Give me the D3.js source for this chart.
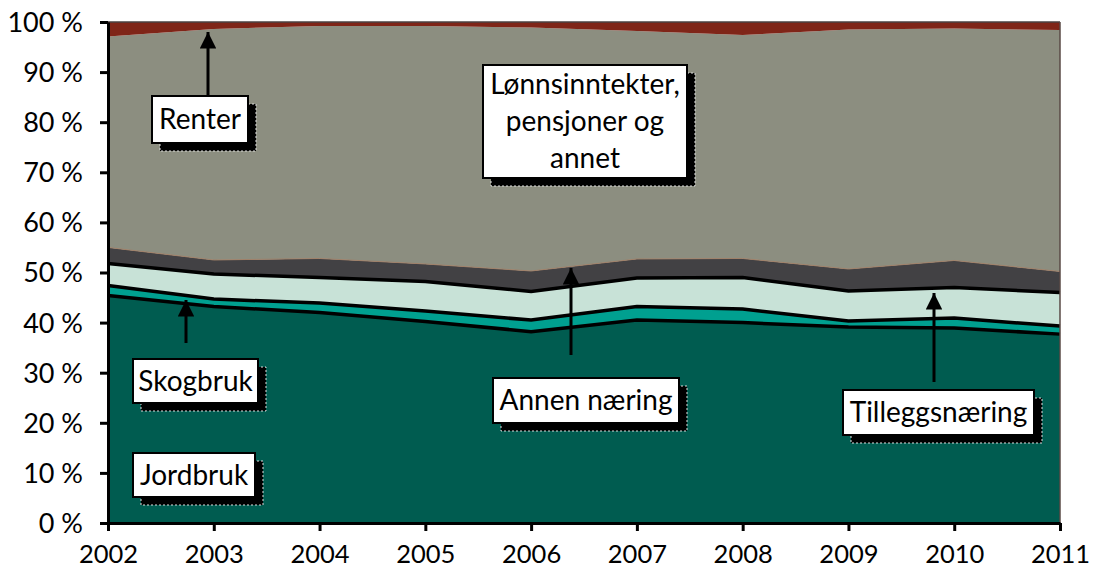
<!DOCTYPE html>
<html>
<head>
<meta charset="utf-8">
<script src="https://cdn.jsdelivr.net/npm/d3@7"></script>
<style>
  body { margin: 0; background: #fff; }
  text { font-family: Lato, "Open Sans", sans-serif; fill: #000; }
</style>
</head>
<body>
<div class="chart"></div>
<script>
// data (shares in %)
var years = [2002, 2003, 2004, 2005, 2006, 2007, 2008, 2009, 2010, 2011];
var jordbruk = [45.4, 43.2, 42.0, 40.2, 38.2, 40.5, 40.0, 39.1, 38.9, 37.7];
var skogbruk = [2.0, 1.5, 1.9, 2.1, 2.3, 2.7, 2.7, 1.2, 2.0, 1.6];
var tillegg = [4.4, 5.0, 5.1, 5.9, 5.7, 5.7, 6.3, 6.0, 6.1, 6.7];
var annen = [3.2, 2.8, 3.8, 3.5, 4.1, 3.8, 3.8, 4.4, 5.4, 4.2];
var lonn = [42.1, 46.1, 46.4, 47.5, 48.6, 45.5, 44.6, 47.8, 46.3, 48.2];
var renter = [2.9, 1.4, 0.8, 0.8, 1.1, 1.8, 2.6, 1.5, 1.3, 1.6];
var yTicks = [0, 10, 20, 30, 40, 50, 60, 70, 80, 90, 100];

var keys = ["jordbruk", "skogbruk", "tillegg", "annen", "lonn", "renter"];
var colors = {
  jordbruk: "#005c50",
  skogbruk: "#00a090",
  tillegg: "#c8e2d7",
  annen: "#424144",
  lonn: "#8c8e80",
  renter: "#7f2518"
};

var svgWidth = 1094;
var svgHeight = 576;
var margin = { top: 22, right: 34, bottom: 53, left: 108 };
var width = svgWidth - margin.left - margin.right;
var height = svgHeight - margin.top - margin.bottom;

var svg = d3.select(".chart")
  .append("svg")
  .attr("width", svgWidth)
  .attr("height", svgHeight);

var chartGroup = svg.append("g")
  .attr("transform", `translate(${margin.left}, ${margin.top})`);

var rows = years.map(function(y, i) {
  return {
    year: y,
    jordbruk: jordbruk[i],
    skogbruk: skogbruk[i],
    tillegg: tillegg[i],
    annen: annen[i],
    lonn: lonn[i],
    renter: renter[i]
  };
});

var series = d3.stack().keys(keys).offset(d3.stackOffsetExpand)(rows);

var xScale = d3.scaleLinear()
  .domain(d3.extent(years))
  .range([0, width]);

var yScale = d3.scaleLinear()
  .domain([0, 1])
  .range([height, 0]);

var area = d3.area()
  .x(d => xScale(d.data.year))
  .y0(d => yScale(d[0]))
  .y1(d => yScale(d[1]));

chartGroup.selectAll(".layer")
  .data(series)
  .enter()
  .append("path")
  .attr("class", "layer")
  .attr("d", area)
  .attr("fill", d => colors[d.key]);

// boundary lines on top of the lower layers
var topLine = d3.line()
  .x(d => xScale(d.data.year))
  .y(d => yScale(d[1]));

series.forEach(function(s) {
  if (s.key === "jordbruk" || s.key === "skogbruk" || s.key === "tillegg") {
    chartGroup.append("path")
      .attr("d", topLine(s))
      .attr("fill", "none")
      .attr("stroke", "#000")
      .attr("stroke-width", 3.5);
  } else if (s.key === "annen") {
    chartGroup.append("path")
      .attr("d", topLine(s))
      .attr("fill", "none")
      .attr("stroke", "#a08068")
      .attr("stroke-width", 1);
  }
});

// frame top and right
chartGroup.append("line")
  .attr("x1", 0).attr("x2", width)
  .attr("y1", 0).attr("y2", 0)
  .attr("stroke", "#4a4242").attr("stroke-width", 1.5);
chartGroup.append("line")
  .attr("x1", width).attr("x2", width)
  .attr("y1", 0).attr("y2", height)
  .attr("stroke", "#5a4a46").attr("stroke-width", 1.5);

// axes
var bottomAxis = d3.axisBottom(xScale)
  .tickValues(years)
  .tickFormat(d3.format("d"))
  .tickSizeInner(8)
  .tickSizeOuter(0)
  .tickPadding(14);

var leftAxis = d3.axisLeft(yScale)
  .tickValues(yTicks.map(d => d / 100))
  .tickFormat(d => Math.round(d * 100) + " %")
  .tickSizeInner(8)
  .tickSizeOuter(0)
  .tickPadding(17);

var xAxisG = chartGroup.append("g")
  .attr("transform", `translate(0, ${height})`)
  .call(bottomAxis);

var yAxisG = chartGroup.append("g")
  .call(leftAxis);

[xAxisG, yAxisG].forEach(function(g) {
  g.selectAll(".domain").attr("stroke", "#000").attr("stroke-width", 3);
  g.selectAll(".tick line").attr("stroke", "#000").attr("stroke-width", 3);
  g.selectAll(".tick text")
    .attr("font-family", "Lato, sans-serif")
    .attr("fill", "#000");
});
yAxisG.selectAll(".tick text").attr("dy", "0.35em").attr("font-size", "27px");
xAxisG.selectAll(".tick text").attr("dy", "0.71em").attr("font-size", "25.5px");

// label boxes with shadows and arrows (page coordinates)
var labels = [
  { lines: ["Renter"], x: 152, y: 96, w: 96, h: 47 },
  { lines: ["Lønnsinntekter,", "pensjoner og", "annet"], x: 483, y: 65, w: 204, h: 113 },
  { lines: ["Skogbruk"], x: 133, y: 359, w: 125, h: 44 },
  { lines: ["Jordbruk"], x: 133, y: 453, w: 122, h: 44 },
  { lines: ["Annen næring"], x: 493, y: 378, w: 186, h: 45 },
  { lines: ["Tilleggsnæring"], x: 843, y: 390, w: 191, h: 45 }
];

var arrows = [
  { x: 208, y1: 96, y2: 32 },
  { x: 186, y1: 343, y2: 300 },
  { x: 571, y1: 355, y2: 268 },
  { x: 934, y1: 382, y2: 293 }
];

var defs = svg.append("defs");
defs.append("marker")
  .attr("id", "head")
  .attr("viewBox", "0 0 10 10")
  .attr("refX", 10)
  .attr("refY", 5)
  .attr("markerWidth", 5.5)
  .attr("markerHeight", 5.5)
  .attr("markerUnits", "strokeWidth")
  .attr("orient", "auto")
  .append("path")
  .attr("d", "M0,0 L10,5 L0,10 Z")
  .attr("fill", "#000");

var annot = svg.append("g");

arrows.forEach(function(a) {
  annot.append("line")
    .attr("x1", a.x).attr("x2", a.x)
    .attr("y1", a.y1).attr("y2", a.y2)
    .attr("stroke", "#000")
    .attr("stroke-width", 3)
    .attr("marker-end", "url(#head)");
});

labels.forEach(function(l) {
  annot.append("rect")
    .attr("x", l.x + 8).attr("y", l.y + 8)
    .attr("width", l.w).attr("height", l.h)
    .attr("fill", "#000")
    .attr("stroke", "#ddd")
    .attr("stroke-width", 1)
    .attr("stroke-dasharray", "2,2");
  annot.append("rect")
    .attr("x", l.x).attr("y", l.y)
    .attr("width", l.w).attr("height", l.h)
    .attr("fill", "#fff")
    .attr("stroke", "#000")
    .attr("stroke-width", 2);
  var lineH = 37;
  var startY = l.y + l.h / 2 - (l.lines.length - 1) * lineH / 2;
  l.lines.forEach(function(t, i) {
    annot.append("text")
      .attr("x", l.x + l.w / 2)
      .attr("y", startY + i * lineH)
      .attr("dy", "0.35em")
      .attr("text-anchor", "middle")
      .attr("font-size", "28px")
      .text(t);
  });
});
</script>
</body>
</html>
